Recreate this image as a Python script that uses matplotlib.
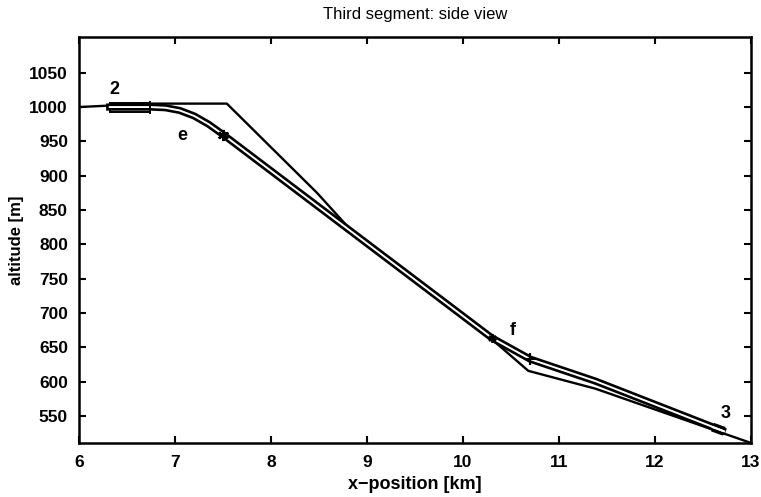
import numpy as np
import matplotlib
matplotlib.use("Agg")
import matplotlib.pyplot as plt
import matplotlib.patches as patches

plt.rcParams['font.family'] = ['Liberation Sans', 'DejaVu Sans']

# terrain profile (single line)
terrain_x = [6.0, 6.74, 7.54, 8.48, 8.85, 10.30, 10.68, 11.38, 13.0]
terrain_y = [1000, 1005, 1005, 875, 818, 662, 616, 590, 511]

# flight corridor centre line (double line)
path_x = [6.32, 6.74, 6.90, 7.05, 7.20, 7.35, 7.50, 10.30, 10.70, 11.38, 12.70]
path_y = [1000, 1000, 999, 995, 987, 975, 960, 664, 633, 601, 529]

# waypoints / markers
star_pts = ([7.50], [960])
f_pts = ([10.30], [664])
plus_pts = ([10.70], [633])

# labels
label_txt = ['2', 'e', 'f', '3']
label_x = [6.37, 7.08, 10.52, 12.74]
label_y = [1025, 958, 674, 554]

# start box of the corridor
box_x0, box_x1 = 6.32, 6.74
box_y0, box_y1 = 993, 1006

fig = plt.figure(figsize=(7.61, 4.97), dpi=100, facecolor='white')
ax = fig.add_axes([0.1038, 0.1087, 0.8831, 0.8169])

ax.plot(terrain_x, terrain_y, color='black', lw=1.7, zorder=2)

rect = patches.Rectangle((box_x0, box_y0), box_x1 - box_x0, box_y1 - box_y0,
                         facecolor='#cfcfcf', edgecolor='black', lw=1.4, zorder=3)
ax.add_patch(rect)

ax.plot(path_x, path_y, color='black', lw=5.2, zorder=4, solid_joinstyle='miter')
ax.plot(path_x, path_y, color='white', lw=1.4, zorder=5, solid_joinstyle='miter')

# end of corridor, small box
ax.plot([12.60, 12.72], [534, 528], color='black', lw=6.5, zorder=4, solid_capstyle='butt')
ax.plot([12.60, 12.72], [534, 528], color='white', lw=1.4, zorder=5)

ax.plot(*star_pts, marker=(6, 2, 0), ls='none', color='black', ms=8, mew=1.6, zorder=6)
ax.plot(*f_pts, marker=(6, 2, 0), ls='none', color='black', ms=6, mew=1.6, zorder=6)
ax.plot(*plus_pts, marker='+', ls='none', color='black', ms=8, mew=1.5, zorder=6)
ax.plot([box_x1, box_x1], [box_y0 - 2, box_y1 + 2], color='black', lw=1.4, zorder=6)

for t, x, y in zip(label_txt, label_x, label_y):
    ax.text(x, y, t, fontsize=13, fontweight='bold', ha='center', va='center', zorder=7)

ax.set_xlim(6, 13)
ax.set_ylim(511, 1102)
ax.set_xticks(range(6, 14))
ax.set_yticks(range(550, 1051, 50))
ax.tick_params(direction='in', length=5, width=1.5, top=True, right=True,
               labelsize=12.5)
ax.tick_params(axis='x', pad=9)
ax.tick_params(axis='y', pad=8)
for lab in ax.get_xticklabels() + ax.get_yticklabels():
    lab.set_fontweight('bold')
for sp in ax.spines.values():
    sp.set_linewidth(1.8)

ax.set_xlabel('x\u2212position [km]', fontsize=13, fontweight='bold', labelpad=4)
ax.set_ylabel('altitude [m]', fontsize=12, fontweight='bold', labelpad=4)
ax.set_title('Third segment: side view', fontsize=12, pad=13)

fig.savefig('out.png', dpi=100)
